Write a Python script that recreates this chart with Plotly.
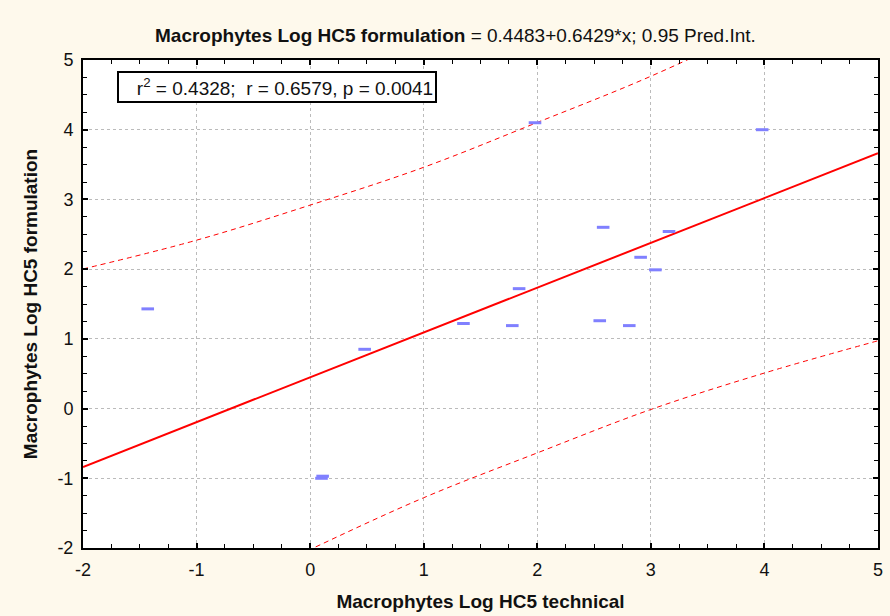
import plotly.graph_objects as go

# Observed log HC5 values (technical vs formulation) for macrophytes
hc5_technical = [-1.43, 0.48, 0.10, 0.11, 1.35, 1.78, 1.84, 1.98, 2.55, 2.58, 2.81, 2.91, 3.04, 3.16, 3.98]
hc5_formulation = [1.43, 0.85, -1.00, -0.97, 1.22, 1.19, 1.72, 4.10, 1.26, 2.60, 1.19, 2.17, 1.99, 2.54, 4.00]

# Fitted regression (intercept, slope)
intercept = 0.4483
slope = 0.6429

# Half-width of the 0.95 prediction interval around the fit
pi_x = [-2, -1, 0, 1, 2, 3, 4, 5]
pi_half_width = [2.84, 2.61, 2.47, 2.37, 2.37, 2.39, 2.51, 2.69]

x_range = [-2, 5]
y_range = [-2, 5]
tick_vals = [-2, -1, 0, 1, 2, 3, 4, 5]
tick_text = ["-2", "-1", "0", "1", "2", "3", "4", "5"]

fit_x = [x_range[0], x_range[1]]
fit_y = [intercept + slope * v for v in fit_x]
upper = [intercept + slope * v + h for v, h in zip(pi_x, pi_half_width)]
lower = [intercept + slope * v - h for v, h in zip(pi_x, pi_half_width)]

FONT = "Liberation Sans, Arial, sans-serif"
RED = "#FF0000"
TXT = "#111111"

fig = go.Figure()
for band in (upper, lower):
    fig.add_trace(go.Scatter(x=pi_x, y=band, mode="lines",
                             line=dict(color=RED, width=1, dash="5px,4px", shape="spline"),
                             hoverinfo="skip", showlegend=False))
fig.add_trace(go.Scatter(x=fit_x, y=fit_y, mode="lines", line=dict(color=RED, width=2), showlegend=False))
fig.add_trace(go.Scatter(x=hc5_technical, y=hc5_formulation, mode="markers",
                         marker=dict(symbol="line-ew", size=9, line=dict(color="#8080FF", width=3)),
                         showlegend=False))

axis_common = dict(
    showline=True, linecolor="black", linewidth=2, mirror="allticks",
    ticks="inside", ticklen=5, tickwidth=2, tickcolor="black",
    tickvals=tick_vals, ticktext=tick_text,
    tickfont=dict(family=FONT, size=18, color=TXT),
    showgrid=True, gridcolor="#BBBBBB", gridwidth=1, griddash="dot",
    zeroline=False,
    minor=dict(dtick=0.25, ticks="inside", ticklen=4, tickwidth=1, tickcolor="black", showgrid=False),
)

fig.update_xaxes(range=x_range, ticklabelstandoff=4,
                 title=dict(text="<b>Macrophytes Log HC5 technical</b>",
                            font=dict(family=FONT, size=19, color=TXT), standoff=16),
                 **axis_common)
fig.update_yaxes(range=y_range, ticklabelstandoff=4,
                 title=dict(text="<b>Macrophytes Log HC5 formulation</b>",
                            font=dict(family=FONT, size=19, color=TXT), standoff=15),
                 **axis_common)

fig.add_annotation(
    text="<b>Macrophytes Log HC5 formulation</b> = 0.4483+0.6429*x; 0.95 Pred.Int.",
    xref="paper", yref="paper", x=0.469, y=1.0, yshift=25, xanchor="center", yanchor="middle",
    showarrow=False, font=dict(family=FONT, size=19, color=TXT),
)
fig.add_annotation(
    text="&nbsp;&nbsp;&nbsp;r<sup>2</sup> = 0.4328;  r = 0.6579, p = 0.0041",
    xref="paper", yref="paper", x=0.0425, y=0.978, xanchor="left", yanchor="top",
    showarrow=False, font=dict(family=FONT, size=19, color=TXT),
    bgcolor="white", bordercolor="black", borderwidth=2, borderpad=2,
)

fig.update_layout(
    width=890, height=616,
    margin=dict(l=83, r=7, t=60, b=68),
    paper_bgcolor="#FEF9EC", plot_bgcolor="white",
    font=dict(family=FONT),
)

fig.write_html("out.html")
